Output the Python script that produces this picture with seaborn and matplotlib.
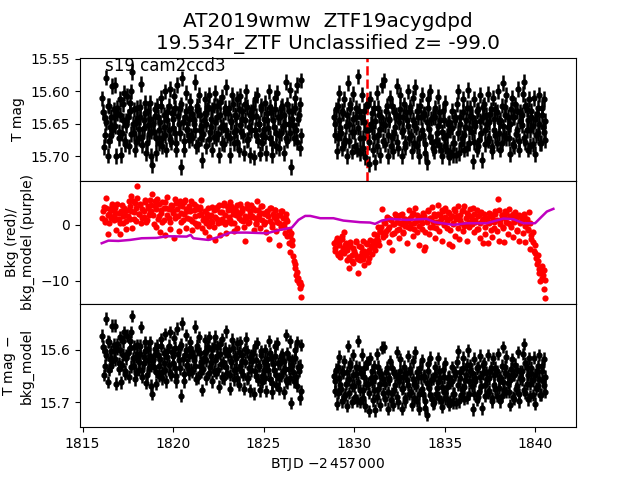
import matplotlib
matplotlib.use('Agg')
import matplotlib.pyplot as plt
import numpy as np
import pandas as pd
import seaborn as sns

# times, one row per ~0.7 d
btjd = [
    1816.10,1816.17,1816.24,1816.31,1816.38,1816.45,1816.52,1816.59,1816.65,1816.72,
    1816.79,1816.86,1816.93,1817.00,1817.07,1817.14,1817.21,1817.28,1817.34,1817.41,
    1817.48,1817.55,1817.62,1817.69,1817.76,1817.83,1817.90,1817.97,1818.03,1818.10,
    1818.17,1818.24,1818.31,1818.38,1818.45,1818.52,1818.59,1818.66,1818.72,1818.79,
    1818.86,1818.93,1819.00,1819.07,1819.14,1819.21,1819.28,1819.35,1819.41,1819.48,
    1819.55,1819.62,1819.69,1819.76,1819.83,1819.90,1819.97,1820.04,1820.10,1820.17,
    1820.24,1820.31,1820.38,1820.45,1820.52,1820.59,1820.66,1820.73,1820.79,1820.86,
    1820.93,1821.00,1821.07,1821.14,1821.21,1821.28,1821.35,1821.42,1821.48,1821.55,
    1821.62,1821.69,1821.76,1821.83,1821.90,1821.97,1822.04,1822.11,1822.17,1822.24,
    1822.31,1822.38,1822.45,1822.52,1822.59,1822.66,1822.73,1822.80,1822.86,1822.93,
    1823.00,1823.07,1823.14,1823.21,1823.28,1823.35,1823.42,1823.49,1823.55,1823.62,
    1823.69,1823.76,1823.83,1823.90,1823.97,1824.04,1824.11,1824.18,1824.24,1824.31,
    1824.38,1824.45,1824.52,1824.59,1824.66,1824.73,1824.80,1824.87,1824.93,1825.00,
    1825.07,1825.14,1825.21,1825.28,1825.35,1825.42,1825.49,1825.56,1825.62,1825.69,
    1825.76,1825.83,1825.90,1825.97,1826.04,1826.11,1826.18,1826.25,1826.31,1826.38,
    1826.45,1826.52,1826.59,1826.66,1826.73,1826.80,1826.87,1826.94,1827.00,1827.07,
    1828.90,1828.97,1829.04,1829.11,1829.18,1829.25,1829.32,1829.39,1829.45,1829.52,
    1829.59,1829.66,1829.73,1829.80,1829.87,1829.94,1830.01,1830.08,1830.14,1830.21,
    1830.28,1830.35,1830.42,1830.49,1830.56,1830.63,1830.70,1830.77,1830.83,1830.90,
    1830.97,1831.04,1831.11,1831.18,1831.25,1831.32,1831.39,1831.46,1831.52,1831.59,
    1831.66,1831.73,1831.80,1831.87,1831.94,1832.01,1832.08,1832.15,1832.21,1832.28,
    1832.35,1832.42,1832.49,1832.56,1832.63,1832.70,1832.77,1832.84,1832.90,1832.97,
    1833.04,1833.11,1833.18,1833.25,1833.32,1833.39,1833.46,1833.53,1833.59,1833.66,
    1833.73,1833.80,1833.87,1833.94,1834.01,1834.08,1834.15,1834.22,1834.28,1834.35,
    1834.42,1834.49,1834.56,1834.63,1834.70,1834.77,1834.84,1834.91,1834.97,1835.04,
    1835.11,1835.18,1835.25,1835.32,1835.39,1835.46,1835.53,1835.60,1835.66,1835.73,
    1835.80,1835.87,1835.94,1836.01,1836.08,1836.15,1836.22,1836.29,1836.35,1836.42,
    1836.49,1836.56,1836.63,1836.70,1836.77,1836.84,1836.91,1836.98,1837.04,1837.11,
    1837.18,1837.25,1837.32,1837.39,1837.46,1837.53,1837.60,1837.67,1837.73,1837.80,
    1837.87,1837.94,1838.01,1838.08,1838.15,1838.22,1838.29,1838.36,1838.42,1838.49,
    1838.56,1838.63,1838.70,1838.77,1838.84,1838.91,1838.98,1839.05,1839.11,1839.18,
    1839.25,1839.32,1839.39,1839.46,1839.53,1839.60,1839.67,1839.74,1839.80,1839.87,
    1839.94,1840.01,1840.08,1840.15,1840.22,1840.29,1840.36,1840.43,1840.49,1840.56,
]

t_mag = [
    15.611,15.686,15.641,15.579,15.699,15.623,15.655,15.668,15.592,15.640,
    15.590,15.700,15.634,15.662,15.612,15.698,15.645,15.603,15.676,15.652,
    15.607,15.685,15.630,15.600,15.570,15.664,15.690,15.648,15.625,15.672,
    15.640,15.589,15.683,15.657,15.618,15.695,15.631,15.666,15.643,15.700,
    15.714,15.662,15.638,15.695,15.622,15.680,15.648,15.610,15.672,15.655,
    15.600,15.690,15.632,15.659,15.596,15.678,15.642,15.607,15.665,15.690,
    15.590,15.650,15.625,15.717,15.580,15.690,15.640,15.602,15.660,15.675,
    15.615,15.668,15.635,15.650,15.586,15.685,15.629,15.606,15.660,15.672,
    15.706,15.645,15.612,15.684,15.628,15.606,15.662,15.655,15.690,15.622,
    15.603,15.672,15.640,15.698,15.617,15.655,15.608,15.682,15.632,15.593,
    15.668,15.625,15.698,15.648,15.605,15.680,15.636,15.660,15.612,15.690,
    15.607,15.662,15.642,15.695,15.620,15.600,15.675,15.655,15.698,15.632,
    15.640,15.702,15.612,15.668,15.606,15.650,15.696,15.628,15.680,15.658,
    15.618,15.695,15.645,15.600,15.672,15.632,15.698,15.655,15.610,15.684,
    15.602,15.688,15.640,15.664,15.622,15.695,15.650,15.586,15.676,15.630,
    15.598,15.717,15.642,15.672,15.610,15.660,15.590,15.636,15.688,15.583,
    15.640,15.668,15.692,15.622,15.603,15.657,15.688,15.634,15.612,15.675,
    15.700,15.587,15.650,15.625,15.693,15.604,15.662,15.640,15.690,15.577,
    15.630,15.695,15.605,15.672,15.648,15.702,15.620,15.660,15.712,15.612,
    15.655,15.690,15.625,15.709,15.602,15.668,15.637,15.698,15.590,15.650,
    15.583,15.682,15.622,15.700,15.645,15.610,15.670,15.692,15.632,15.655,
    15.592,15.688,15.640,15.606,15.700,15.660,15.620,15.680,15.645,15.600,
    15.672,15.630,15.692,15.610,15.652,15.593,15.685,15.640,15.700,15.622,
    15.605,15.668,15.636,15.695,15.709,15.612,15.658,15.600,15.678,15.640,
    15.692,15.625,15.665,15.608,15.683,15.645,15.700,15.630,15.672,15.618,
    15.690,15.650,15.702,15.660,15.630,15.698,15.680,15.645,15.620,15.600,
    15.695,15.640,15.672,15.612,15.690,15.655,15.625,15.598,15.680,15.638,
    15.663,15.708,15.612,15.648,15.690,15.628,15.675,15.606,15.706,15.640,
    15.620,15.682,15.650,15.604,15.672,15.635,15.692,15.610,15.660,15.628,
    15.680,15.600,15.648,15.690,15.622,15.587,15.668,15.636,15.605,15.655,
    15.672,15.697,15.610,15.640,15.685,15.620,15.660,15.596,15.690,15.632,
    15.652,15.604,15.585,15.678,15.628,15.690,15.612,15.660,15.640,15.682,
    15.610,15.697,15.635,15.664,15.605,15.680,15.625,15.655,15.612,15.675,
]

bkg = [
    1.2,3.2,0.5,4.8,-1.7,2.0,2.9,1.3,3.4,0.8,
    2.2,-0.9,3.7,1.0,-1.6,2.5,0.3,3.0,1.7,-0.8,
    2.6,4.3,1.1,5.2,-0.5,2.3,3.9,0.7,7.0,1.9,
    3.5,0.4,2.8,1.4,4.1,0.6,3.0,1.8,4.4,2.4,
    5.5,0.2,3.3,-0.3,4.6,1.5,-1.3,2.7,4.0,0.9,
    -1.8,3.1,5.0,1.2,-0.7,3.6,2.1,-2.4,4.7,1.6,
    2.9,-1.1,4.2,0.5,3.3,1.9,4.5,-0.6,2.4,3.0,
    1.0,4.3,-0.9,2.6,0.4,3.4,-0.2,1.7,2.9,4.4,
    -0.5,1.2,-1.2,0.3,2.0,-2.1,1.5,0.7,3.2,-0.4,
    -2.7,2.8,1.1,3.6,-1.8,0.6,2.3,3.9,0.2,-1.5,
    3.3,1.4,4.1,0.3,2.6,-1.0,3.0,1.8,-0.6,2.2,
    3.8,0.9,2.4,-0.3,-2.9,1.3,3.1,0.5,2.0,3.6,
    1.6,-0.9,2.7,0.4,4.3,1.1,-0.6,2.2,3.3,0.1,
    1.9,-1.2,2.5,-2.6,0.7,3.0,-0.4,1.4,2.6,-1.0,
    0.6,-3.6,1.8,-0.3,2.4,0.2,-1.4,1.1,-2.0,-3.3,
    -4.8,-1.5,-2.7,-6.4,-7.6,-8.9,-9.8,-10.4,-11.2,-12.9,
    -3.3,-4.6,-2.4,-5.1,-3.0,-5.8,-1.9,-4.2,-1.2,-3.6,
    -6.2,-4.0,-7.6,-3.1,-5.4,-6.8,-4.6,-2.8,-5.9,-8.5,
    -3.7,-6.3,-4.9,-2.9,-7.2,-5.3,-3.4,-6.6,-4.4,-2.7,
    -5.1,-3.2,-1.6,-4.4,-2.5,-0.4,-3.6,-1.1,2.8,-2.2,
    0.6,-1.8,1.4,-0.7,-3.0,1.1,-4.5,0.2,-1.4,1.9,
    -0.9,1.5,-2.4,0.4,2.0,-1.3,1.1,-0.2,-3.2,0.8,
    2.6,-0.5,1.7,-2.0,0.3,3.0,-1.2,0.9,-3.6,1.4,
    -0.7,2.2,-4.5,-3.9,0.6,2.7,-1.6,1.3,3.2,-0.3,
    2.0,-2.3,0.5,3.6,-1.0,1.7,-2.8,2.5,0.1,3.1,
    -0.6,2.3,-3.4,1.2,-3.7,0.4,2.9,-1.9,1.6,3.3,
    -2.6,0.9,2.4,-1.1,3.4,0.2,-2.9,1.7,-0.4,2.8,
    1.1,3.1,-1.3,0.5,2.6,-0.8,1.8,-2.4,0.7,-3.2,
    2.0,-1.6,1.2,-3.3,0.4,1.9,-2.2,0.8,-0.5,2.5,
    -1.0,4.6,-2.9,0.9,1.7,-0.3,-3.1,2.4,0.6,-1.7,
    2.9,0.2,1.4,-2.2,0.6,2.3,-0.9,1.6,-2.8,0.3,
    1.2,-1.4,2.0,-3.0,0.4,-0.8,2.3,-4.3,-1.8,-3.0,
    -4.6,-3.6,-6.9,-5.4,-8.6,-10.0,-7.4,-8.9,-11.5,-13.1,
]

t_mag_corr = [
    15.573,15.648,15.603,15.541,15.661,15.585,15.617,15.630,15.554,15.602,
    15.554,15.664,15.598,15.626,15.576,15.662,15.609,15.567,15.640,15.616,
    15.573,15.651,15.596,15.566,15.536,15.630,15.656,15.614,15.591,15.638,
    15.608,15.557,15.651,15.625,15.586,15.663,15.599,15.634,15.611,15.668,
    15.684,15.632,15.608,15.665,15.592,15.650,15.618,15.580,15.642,15.625,
    15.570,15.660,15.602,15.629,15.566,15.648,15.612,15.577,15.635,15.660,
    15.560,15.620,15.595,15.687,15.550,15.660,15.610,15.572,15.630,15.645,
    15.585,15.638,15.605,15.620,15.556,15.655,15.599,15.576,15.630,15.642,
    15.676,15.615,15.582,15.654,15.598,15.576,15.632,15.625,15.660,15.592,
    15.575,15.644,15.612,15.670,15.589,15.627,15.580,15.654,15.604,15.565,
    15.644,15.601,15.674,15.624,15.581,15.656,15.612,15.636,15.588,15.666,
    15.586,15.641,15.621,15.674,15.599,15.579,15.654,15.634,15.677,15.611,
    15.621,15.683,15.593,15.649,15.587,15.631,15.677,15.609,15.661,15.639,
    15.601,15.678,15.628,15.583,15.655,15.615,15.681,15.638,15.593,15.667,
    15.588,15.674,15.626,15.650,15.608,15.681,15.636,15.572,15.662,15.616,
    15.584,15.701,15.628,15.660,15.600,15.652,15.586,15.640,15.692,15.591,
    15.650,15.678,15.702,15.632,15.613,15.667,15.698,15.644,15.622,15.685,
    15.706,15.593,15.656,15.631,15.699,15.610,15.668,15.646,15.696,15.583,
    15.634,15.699,15.609,15.676,15.652,15.706,15.624,15.664,15.716,15.616,
    15.661,15.696,15.631,15.715,15.608,15.674,15.643,15.704,15.596,15.656,
    15.595,15.694,15.634,15.712,15.657,15.622,15.682,15.704,15.644,15.667,
    15.604,15.700,15.652,15.618,15.712,15.672,15.632,15.692,15.657,15.612,
    15.684,15.642,15.704,15.622,15.664,15.605,15.697,15.652,15.712,15.634,
    15.620,15.683,15.651,15.710,15.724,15.627,15.673,15.615,15.693,15.655,
    15.700,15.633,15.673,15.616,15.691,15.653,15.708,15.638,15.680,15.626,
    15.693,15.653,15.705,15.663,15.633,15.701,15.683,15.648,15.623,15.603,
    15.698,15.643,15.675,15.615,15.693,15.658,15.628,15.601,15.683,15.641,
    15.668,15.713,15.617,15.653,15.695,15.633,15.680,15.611,15.711,15.645,
    15.626,15.688,15.656,15.610,15.678,15.641,15.698,15.616,15.666,15.634,
    15.688,15.608,15.656,15.698,15.630,15.595,15.676,15.644,15.613,15.663,
    15.680,15.705,15.618,15.648,15.693,15.628,15.668,15.604,15.698,15.640,
    15.656,15.608,15.589,15.682,15.632,15.694,15.616,15.664,15.644,15.686,
    15.615,15.702,15.640,15.669,15.610,15.685,15.630,15.660,15.617,15.680,
]

# second batch: points that fill the solid core of each band
core_btjd = [
    1816.13,1816.22,1816.30,1816.39,1816.47,1816.56,1816.64,1816.73,
    1816.82,1816.91,1816.99,1817.08,1817.16,1817.25,1817.33,1817.42,
    1817.51,1817.60,1817.68,1817.77,1817.85,1817.94,1818.02,1818.11,
    1818.20,1818.29,1818.37,1818.46,1818.54,1818.63,1818.71,1818.80,
    1818.89,1818.98,1819.06,1819.15,1819.23,1819.32,1819.40,1819.49,
    1819.58,1819.67,1819.75,1819.84,1819.92,1820.01,1820.09,1820.18,
    1820.27,1820.36,1820.44,1820.53,1820.61,1820.70,1820.78,1820.87,
    1820.96,1821.05,1821.13,1821.22,1821.30,1821.39,1821.47,1821.56,
    1821.65,1821.74,1821.82,1821.91,1821.99,1822.08,1822.16,1822.25,
    1822.34,1822.43,1822.51,1822.60,1822.68,1822.77,1822.85,1822.94,
    1823.03,1823.12,1823.20,1823.29,1823.37,1823.46,1823.54,1823.63,
    1823.72,1823.81,1823.89,1823.98,1824.06,1824.15,1824.23,1824.32,
    1824.41,1824.50,1824.58,1824.67,1824.75,1824.84,1824.92,1825.01,
    1825.10,1825.19,1825.27,1825.36,1825.44,1825.53,1825.61,1825.70,
    1825.79,1825.88,1825.96,1826.05,1826.13,1826.22,1826.30,1826.39,
    1826.48,1826.57,1826.65,1826.74,1826.82,1826.91,1826.99,1827.08,
    1828.93,1829.02,1829.10,1829.19,1829.27,1829.36,1829.44,1829.53,
    1829.62,1829.71,1829.79,1829.88,1829.96,1830.05,1830.13,1830.22,
    1830.31,1830.40,1830.48,1830.57,1830.65,1830.74,1830.82,1830.91,
    1831.00,1831.09,1831.17,1831.26,1831.34,1831.43,1831.51,1831.60,
    1831.69,1831.78,1831.86,1831.95,1832.03,1832.12,1832.20,1832.29,
    1832.38,1832.47,1832.55,1832.64,1832.72,1832.81,1832.89,1832.98,
    1833.07,1833.16,1833.24,1833.33,1833.41,1833.50,1833.58,1833.67,
    1833.76,1833.85,1833.93,1834.02,1834.10,1834.19,1834.27,1834.36,
    1834.45,1834.54,1834.62,1834.71,1834.79,1834.88,1834.96,1835.05,
    1835.14,1835.23,1835.31,1835.40,1835.48,1835.57,1835.65,1835.74,
    1835.83,1835.92,1836.00,1836.09,1836.17,1836.26,1836.34,1836.43,
    1836.52,1836.61,1836.69,1836.78,1836.86,1836.95,1837.03,1837.12,
    1837.21,1837.30,1837.38,1837.47,1837.55,1837.64,1837.72,1837.81,
    1837.90,1837.99,1838.07,1838.16,1838.24,1838.33,1838.41,1838.50,
    1838.59,1838.68,1838.76,1838.85,1838.93,1839.02,1839.10,1839.19,
    1839.28,1839.37,1839.45,1839.54,1839.62,1839.71,1839.79,1839.88,
    1839.97,1840.06,1840.14,1840.23,1840.31,1840.40,1840.48,1840.57,
]

core_t_mag = [
    15.632,15.668,15.648,15.622,15.676,15.640,15.660,15.628,
    15.654,15.625,15.672,15.636,15.664,15.620,15.682,15.646,
    15.640,15.618,15.666,15.650,15.628,15.678,15.642,15.658,
    15.624,15.670,15.645,15.634,15.680,15.652,15.618,15.662,
    15.650,15.628,15.672,15.640,15.660,15.622,15.684,15.636,
    15.668,15.644,15.622,15.674,15.634,15.656,15.626,15.680,
    15.638,15.665,15.620,15.648,15.676,15.630,15.658,15.642,
    15.626,15.672,15.644,15.660,15.622,15.682,15.636,15.654,
    15.666,15.634,15.650,15.624,15.674,15.642,15.628,15.670,
    15.648,15.622,15.666,15.636,15.680,15.652,15.626,15.660,
    15.634,15.672,15.646,15.620,15.662,15.640,15.678,15.628,
    15.652,15.630,15.668,15.644,15.624,15.674,15.636,15.660,
    15.626,15.660,15.638,15.676,15.650,15.622,15.668,15.642,
    15.670,15.634,15.656,15.624,15.680,15.644,15.628,15.664,
    15.640,15.668,15.626,15.654,15.636,15.672,15.620,15.650,
    15.664,15.630,15.652,15.625,15.678,15.642,15.620,15.668,
    15.650,15.628,15.672,15.644,15.664,15.630,15.680,15.654,
    15.636,15.676,15.620,15.662,15.642,15.684,15.626,15.656,
    15.672,15.640,15.688,15.630,15.660,15.622,15.678,15.650,
    15.634,15.670,15.646,15.684,15.626,15.658,15.640,15.676,
    15.652,15.630,15.668,15.642,15.684,15.622,15.664,15.636,
    15.678,15.648,15.628,15.662,15.640,15.686,15.632,15.654,
    15.624,15.668,15.644,15.680,15.656,15.630,15.672,15.640,
    15.660,15.634,15.682,15.648,15.626,15.670,15.642,15.688,
    15.640,15.676,15.654,15.632,15.690,15.662,15.644,15.684,
    15.668,15.648,15.694,15.656,15.680,15.640,15.698,15.664,
    15.650,15.682,15.632,15.668,15.644,15.688,15.656,15.626,
    15.640,15.678,15.654,15.630,15.684,15.646,15.664,15.624,
    15.660,15.636,15.676,15.648,15.628,15.686,15.642,15.668,
    15.632,15.664,15.644,15.680,15.654,15.624,15.672,15.640,
    15.650,15.628,15.682,15.640,15.666,15.630,15.676,15.646,
    15.636,15.672,15.622,15.660,15.644,15.684,15.630,15.654,
    15.642,15.668,15.626,15.650,15.680,15.636,15.662,15.646,
]

core_bkg = [
    2.4,0.9,3.1,1.8,0.3,2.7,3.8,1.5,
    3.0,1.1,2.2,0.4,3.5,1.6,2.6,0.7,
    1.5,3.4,2.4,4.2,1.0,3.1,4.8,2.0,
    3.8,1.2,2.5,4.5,0.8,3.3,2.1,3.6,
    1.8,4.3,2.8,1.1,3.7,2.2,0.6,3.0,
    4.0,1.7,2.9,0.5,3.4,2.4,1.3,3.9,
    1.5,3.6,2.2,0.9,4.1,2.8,1.2,3.3,
    2.5,0.7,3.7,1.6,2.9,0.2,3.2,1.9,
    0.8,2.4,1.1,3.0,-0.2,1.8,0.5,2.6,
    1.4,3.2,0.4,2.3,1.0,3.5,1.7,0.6,
    2.7,0.8,3.4,1.9,0.3,2.5,3.6,1.2,
    2.1,3.0,0.7,1.6,3.7,0.4,2.4,1.4,
    3.1,1.3,0.2,2.6,1.7,3.3,0.9,2.2,
    0.6,2.3,1.5,3.0,0.1,1.9,2.7,1.0,
    1.7,0.4,2.5,1.2,-0.4,1.9,0.7,-0.9,
    -2.0,-3.5,-5.5,-7.0,-8.4,-9.4,-10.2,-10.8,
    -4.1,-2.8,-5.4,-3.6,-4.8,-2.5,-5.0,-3.2,
    -4.5,-5.8,-3.4,-6.4,-4.2,-5.2,-3.0,-6.0,
    -5.6,-3.9,-6.1,-4.6,-3.2,-5.0,-5.9,-3.8,
    -4.0,-2.8,-3.5,-1.8,-2.9,-1.0,-0.3,-1.5,
    0.4,-1.0,1.2,-0.4,0.8,-1.7,0.2,1.4,
    0.6,-0.7,1.7,0.2,-1.5,1.0,0.5,-0.4,
    1.3,0.1,2.1,-0.8,0.7,1.8,-0.2,1.1,
    0.3,1.6,-1.2,0.8,2.4,-0.3,1.2,0.5,
    1.5,-0.6,2.0,0.6,1.1,2.6,-0.1,1.4,
    0.7,2.1,-0.9,1.5,0.2,2.4,1.0,-0.5,
    1.8,0.4,2.7,-0.2,1.3,2.2,0.6,1.6,
    0.2,2.0,0.8,-0.7,1.6,0.3,2.3,1.0,
    -0.4,1.2,0.5,2.1,-0.9,1.4,0.6,1.9,
    0.9,2.6,0.1,1.7,-0.6,1.2,2.2,0.4,
    1.5,-0.3,2.0,0.7,1.3,-1.1,1.8,0.5,
    0.9,1.6,-0.2,1.1,-0.9,0.3,-2.6,-1.2,
    -5.0,-5.9,-6.4,-7.9,-8.2,-9.4,-8.0,-9.8,
]

core_t_mag_corr = [
    15.594,15.630,15.610,15.584,15.638,15.602,15.622,15.590,
    15.618,15.589,15.636,15.600,15.628,15.584,15.646,15.610,
    15.606,15.584,15.632,15.616,15.594,15.644,15.608,15.624,
    15.592,15.638,15.613,15.602,15.648,15.620,15.586,15.630,
    15.620,15.598,15.642,15.610,15.630,15.592,15.654,15.606,
    15.638,15.614,15.592,15.644,15.604,15.626,15.596,15.650,
    15.608,15.635,15.590,15.618,15.646,15.600,15.628,15.612,
    15.596,15.642,15.614,15.630,15.592,15.652,15.606,15.624,
    15.636,15.604,15.620,15.594,15.644,15.612,15.598,15.640,
    15.620,15.594,15.638,15.608,15.652,15.624,15.598,15.632,
    15.610,15.648,15.622,15.596,15.638,15.616,15.654,15.604,
    15.631,15.609,15.647,15.623,15.603,15.653,15.615,15.639,
    15.607,15.641,15.619,15.657,15.631,15.603,15.649,15.623,
    15.653,15.617,15.639,15.607,15.663,15.627,15.611,15.647,
    15.626,15.654,15.612,15.640,15.622,15.658,15.606,15.636,
    15.654,15.620,15.642,15.615,15.668,15.632,15.630,15.678,
    15.660,15.638,15.682,15.654,15.674,15.640,15.690,15.664,
    15.642,15.682,15.626,15.668,15.648,15.690,15.632,15.662,
    15.676,15.644,15.692,15.634,15.664,15.626,15.682,15.654,
    15.640,15.676,15.652,15.690,15.632,15.664,15.646,15.682,
    15.664,15.642,15.680,15.654,15.696,15.634,15.676,15.648,
    15.690,15.660,15.640,15.674,15.652,15.698,15.644,15.666,
    15.636,15.680,15.656,15.692,15.668,15.642,15.684,15.652,
    15.675,15.649,15.697,15.663,15.641,15.685,15.657,15.703,
    15.648,15.684,15.662,15.640,15.698,15.670,15.652,15.692,
    15.671,15.651,15.697,15.659,15.683,15.643,15.701,15.667,
    15.653,15.685,15.635,15.671,15.647,15.691,15.659,15.629,
    15.645,15.683,15.659,15.635,15.689,15.651,15.669,15.629,
    15.666,15.642,15.682,15.654,15.634,15.692,15.648,15.674,
    15.640,15.672,15.652,15.688,15.662,15.632,15.680,15.648,
    15.658,15.636,15.690,15.648,15.674,15.638,15.684,15.654,
    15.640,15.676,15.626,15.664,15.648,15.688,15.634,15.658,
    15.647,15.673,15.631,15.655,15.685,15.641,15.667,15.651,
]

# purple background model
model_btjd = [1816.06,1816.43,1816.98,1817.62,1818.27,1819.10,1819.65,1820.75,1820.97,1821.12,
              1821.95,1822.60,1823.15,1824.07,1825.18,1825.91,1826.56,1826.93,1827.30,1827.58,
              1828.13,1828.86,1829.41,1830.33,1830.88,1831.16,1831.53,1831.99,1832.91,1834.01,
              1834.47,1835.49,1836.22,1837.33,1838.25,1838.80,1839.36,1840.00,1840.37,1840.65,1841.01]
model_bkg = [-3.27,-2.80,-2.86,-2.68,-2.38,-2.32,-2.02,-2.08,-1.78,-2.38,
             -2.68,-2.08,-1.37,-1.37,-1.49,-0.89,-0.48,0.89,1.60,1.60,
             1.19,1.19,0.77,0.48,0.42,0.18,0.77,1.07,0.89,1.07,
             0.48,0.00,0.30,0.30,1.13,1.01,0.30,0.30,1.49,2.38,2.86]

discovery_btjd = 1830.70
mag_err = 0.012

points = pd.DataFrame({'btjd': btjd + core_btjd,
                       't_mag': t_mag + core_t_mag,
                       'bkg': bkg + core_bkg,
                       't_mag_corr': t_mag_corr + core_t_mag_corr})
model = pd.DataFrame({'btjd': model_btjd, 'bkg': model_bkg})

fig, (ax1, ax2, ax3) = plt.subplots(3, 1, sharex=True, figsize=(6.4, 4.8), dpi=100)
fig.subplots_adjust(hspace=0)

# top panel: T mag
ax1.errorbar(points['btjd'], points['t_mag'], yerr=mag_err, fmt='.', color='k', ms=7, elinewidth=1.8)
ax1.axvline(discovery_btjd, color='r', linestyle='--', linewidth=1.8)
ax1.set_ylim(15.738, 15.548)
ax1.set_yticks([15.55, 15.60, 15.65, 15.70])
ax1.set_yticklabels(['15.55', '15.60', '15.65', '15.70'])
ax1.set_ylabel('T mag')
ax1.text(1816.25, 15.5686, 's19 cam2ccd3', fontsize=12)
ax1.set_title('AT2019wmw  ZTF19acygdpd\n19.534r_ZTF Unclassified z= -99.0', fontsize=14.4)

# middle panel: background
sns.scatterplot(data=points, x='btjd', y='bkg', color='r', s=20, linewidth=0, ax=ax2)
sns.lineplot(data=model, x='btjd', y='bkg', color='m', linewidth=1.8, sort=False, errorbar=None, ax=ax2)
ax2.set_ylim(-14.1, 7.86)
ax2.set_yticks([-10, 0])
ax2.set_ylabel('Bkg (red)/\nbkg_model (purple)')

# bottom panel: T mag with model removed
ax3.errorbar(points['btjd'], points['t_mag_corr'], yerr=mag_err, fmt='.', color='k', ms=7, elinewidth=1.8)
ax3.set_ylim(15.747, 15.513)
ax3.set_yticks([15.6, 15.7])
ax3.set_yticklabels(['15.6', '15.7'])
ax3.set_ylabel('T mag $-$\nbkg_model')
ax3.set_xlim(1814.86, 1842.26)
ax3.set_xticks([1815, 1820, 1825, 1830, 1835, 1840])
ax3.set_xlabel(r'BTJD $-2\,457\,000$')

ax1.tick_params(axis='x', bottom=False)
ax2.tick_params(axis='x', bottom=False)

fig.savefig('out.png', dpi=100)
